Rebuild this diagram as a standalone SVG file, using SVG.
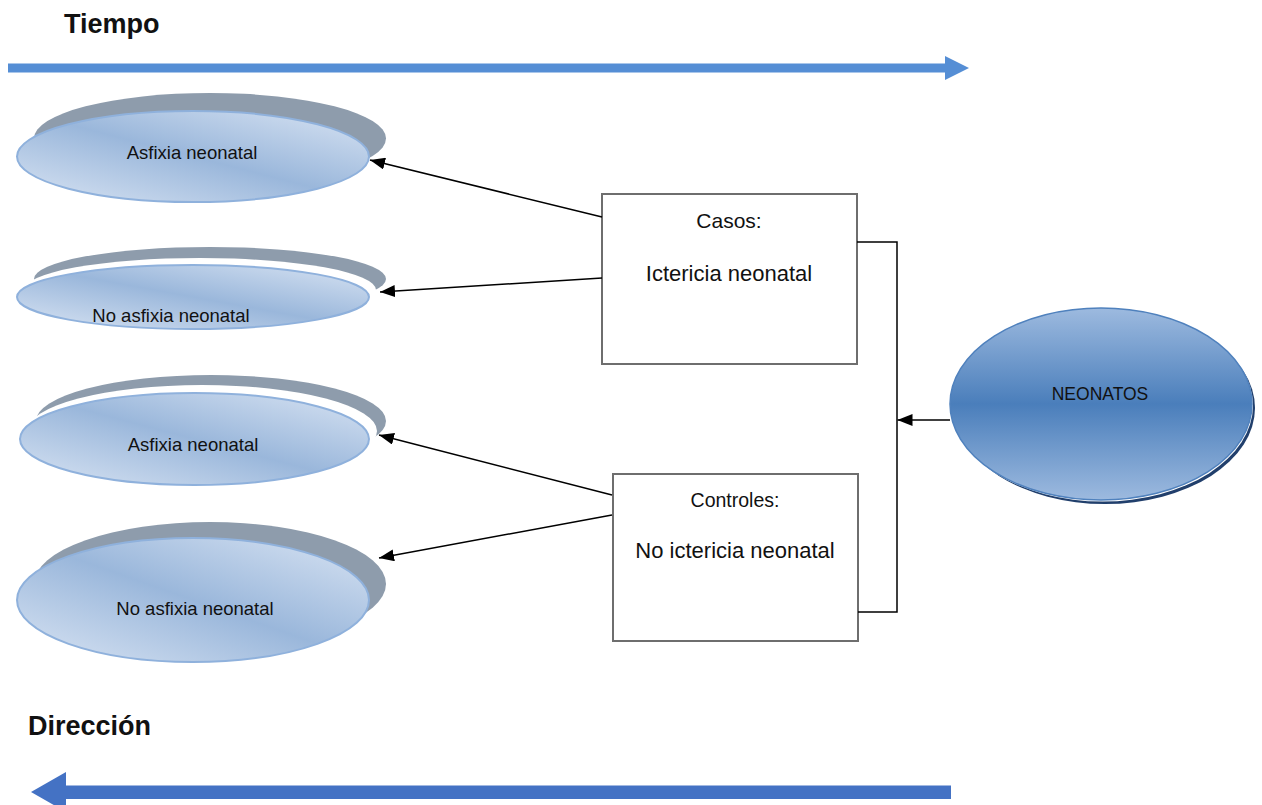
<svg xmlns="http://www.w3.org/2000/svg" width="1262" height="805" viewBox="0 0 1262 805">
<defs>
<linearGradient id="gE" x1="0" y1="1" x2="1" y2="0">
<stop offset="0" stop-color="#D9E4F3"/>
<stop offset="0.5" stop-color="#9AB7DB"/>
<stop offset="1" stop-color="#D9E4F3"/>
</linearGradient>
<linearGradient id="gN" x1="0" y1="0" x2="0" y2="1">
<stop offset="0" stop-color="#9DBADF"/>
<stop offset="0.5" stop-color="#4A7EBB"/>
<stop offset="1" stop-color="#9DBADF"/>
</linearGradient>
<marker id="ah" markerUnits="userSpaceOnUse" markerWidth="15" markerHeight="12" viewBox="0 0 15 12" refX="15" refY="6" orient="auto">
<path d="M0,0 L15,6 L0,12 z" fill="#000"/>
</marker>
</defs>
<style>
.sh{fill:#8E9CAC}
.wg{fill:#fff}
.el{fill:url(#gE);stroke:#8FB1DC;stroke-width:2}
.bx{fill:#fff;stroke:#6E6E6E;stroke-width:2}
.t{font-family:"Liberation Sans",Arial,sans-serif;fill:#111;text-anchor:middle}
.ti{font-family:"Liberation Sans",Arial,sans-serif;font-weight:bold;fill:#111;font-size:27px}
.cn{fill:none;stroke:#000;stroke-width:1.5}
</style>

<g id="tiempo">
<text class="ti" x="64" y="33">Tiempo</text>
<path d="M8,63.5 H945 V56 L969,68 L945,80 V72.5 H8 z" fill="#558ED5"/>
</g>

<g id="direccion">
<text class="ti" x="28" y="735">Dirección</text>
<path d="M951,785.5 H66 V772 L31,792 L66,812 V799 H951 z" fill="#4472C4"/>
</g>

<g id="e1">
<ellipse class="sh" cx="210" cy="138.5" rx="176" ry="45.5"/>
<ellipse class="el" cx="193" cy="156.5" rx="176" ry="45.5"/>
<text class="t" x="192" y="159" font-size="18.5">Asfixia neonatal</text>
</g>

<g id="e2">
<ellipse class="sh" cx="210" cy="279" rx="176" ry="32"/>
<ellipse class="wg" cx="200" cy="290" rx="176" ry="32"/>
<ellipse class="el" cx="193" cy="297" rx="176" ry="32"/>
<text class="t" x="171" y="322" font-size="18.5">No asfixia neonatal</text>
</g>

<g id="e3">
<ellipse class="sh" cx="211" cy="421" rx="175" ry="46"/>
<ellipse class="wg" cx="202" cy="431" rx="175" ry="46"/>
<ellipse class="el" cx="194.5" cy="439" rx="174.5" ry="46"/>
<text class="t" x="193" y="451" font-size="18.5">Asfixia neonatal</text>
</g>

<g id="e4">
<ellipse class="sh" cx="210" cy="584" rx="176" ry="62"/>
<ellipse class="el" cx="193" cy="600" rx="176" ry="62"/>
<text class="t" x="195" y="615" font-size="18.5">No asfixia neonatal</text>
</g>

<g id="casos">
<rect class="bx" x="602" y="194" width="255" height="170"/>
<text class="t" x="729" y="228" font-size="21">Casos:</text>
<text class="t" x="729" y="281" font-size="22">Ictericia neonatal</text>
</g>

<g id="controles">
<rect class="bx" x="613" y="474" width="245" height="167"/>
<text class="t" x="735" y="507" font-size="19.5">Controles:</text>
<text class="t" x="735" y="558" font-size="22">No ictericia neonatal</text>
</g>

<g id="neonatos">
<ellipse cx="1105" cy="408" rx="150" ry="96" fill="#213F6C"/>
<ellipse cx="1102.5" cy="405.5" rx="150.5" ry="96" fill="#fff"/>
<ellipse cx="1101" cy="404" rx="151" ry="96" fill="url(#gN)" stroke="#4F81BD" stroke-width="1.5"/>
<text class="t" x="1100" y="400" font-size="17.5">NEONATOS</text>
</g>

<g id="connectors">
<polyline class="cn" points="857,242 897,242 897,612 858,612"/>
<line class="cn" x1="950" y1="420" x2="897.5" y2="420" marker-end="url(#ah)"/>
<line class="cn" x1="602" y1="217" x2="370" y2="160" marker-end="url(#ah)"/>
<line class="cn" x1="602" y1="278" x2="380" y2="292" marker-end="url(#ah)"/>
<line class="cn" x1="612" y1="495" x2="379" y2="435" marker-end="url(#ah)"/>
<line class="cn" x1="612" y1="515" x2="379" y2="558" marker-end="url(#ah)"/>
</g>
</svg>
